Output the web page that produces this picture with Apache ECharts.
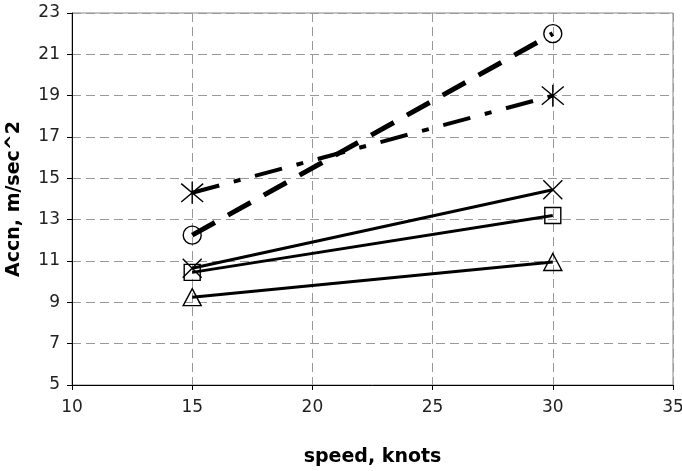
<!DOCTYPE html>
<html>
<head>
<meta charset="utf-8">
<script src="https://cdn.jsdelivr.net/npm/echarts@6/dist/echarts.min.js"></script>
<style>
  html, body { margin: 0; padding: 0; background: #fff; }
  #chart { width: 682px; height: 471px; }
</style>
</head>
<body>
<div id="chart"></div>
<script>
// speed on x, acceleration on y
const speeds = [15, 30];
const circleVals = [12.25, 22.0];
const starVals = [14.3, 19.0];
const crossVals = [10.65, 14.45];
const squareVals = [10.45, 13.2];
const triangleVals = [9.25, 10.95];

const xTicks = { min: 10, max: 35, step: 5 };
const yTicks = { min: 5, max: 23, step: 2 };

const STAR = 'path://M0,0L20,20M20,0L0,20M10,-2L10,22';
const CROSS = 'path://M0,0L20,20M20,0L0,20';

function pairs(vals) {
  return speeds.map((s, i) => [s, vals[i]]);
}

function makeSeries(vals, symbol, size, width, type) {
  return {
    type: 'line',
    data: pairs(vals),
    symbol: symbol,
    symbolSize: size,
    lineStyle: { color: '#000', width: width, type: type },
    itemStyle: { color: 'transparent', borderColor: '#000', borderWidth: 1.4 },
    emphasis: { disabled: true },
    z: 3
  };
}

const labelFont = { color: '#222', fontSize: 17, fontFamily: 'DejaVu Sans' };
const nameFont = { color: '#000', fontSize: 19, fontWeight: 'bold', fontFamily: 'DejaVu Sans' };
const gridDash = { color: '#999', type: [9, 5], width: 1 };

let myChart = echarts.init(document.getElementById('chart'));
myChart.setOption({
  animation: false,
  backgroundColor: '#fff',
  grid: {
    show: true,
    left: 72, right: 9, top: 13, bottom: 86,
    outerBoundsMode: 'none',
    containLabel: false,
    borderColor: '#888', borderWidth: 1
  },
  xAxis: {
    type: 'value',
    min: xTicks.min, max: xTicks.max, interval: xTicks.step,
    name: 'speed, knots',
    nameLocation: 'middle',
    nameGap: 63,
    nameTextStyle: nameFont,
    axisLine: { lineStyle: { color: '#000', width: 1 } },
    axisTick: { show: true, length: 5, lineStyle: { color: '#000' } },
    axisLabel: Object.assign({ margin: 14 }, labelFont),
    splitLine: { show: true, lineStyle: gridDash }
  },
  yAxis: {
    type: 'value',
    min: yTicks.min, max: yTicks.max, interval: yTicks.step,
    name: 'Accn, m/sec^2',
    nameLocation: 'middle',
    nameGap: 48,
    nameTextStyle: nameFont,
    axisLine: { show: true, lineStyle: { color: '#000', width: 1 } },
    axisTick: { show: true, length: 5, lineStyle: { color: '#000' } },
    axisLabel: Object.assign({ margin: 12 }, labelFont),
    splitLine: { show: true, lineStyle: gridDash }
  },
  series: [
    makeSeries(triangleVals, 'triangle', [18, 17], 3, 'solid'),
    makeSeries(squareVals, 'rect', 16, 3, 'solid'),
    makeSeries(crossVals, CROSS, 19, 3, 'solid'),
    makeSeries(circleVals, 'circle', 18, 5, [26, 15]),
    makeSeries(starVals, STAR, 22, 4, [28, 15, 7, 15])
  ]
});
</script>
</body>
</html>
